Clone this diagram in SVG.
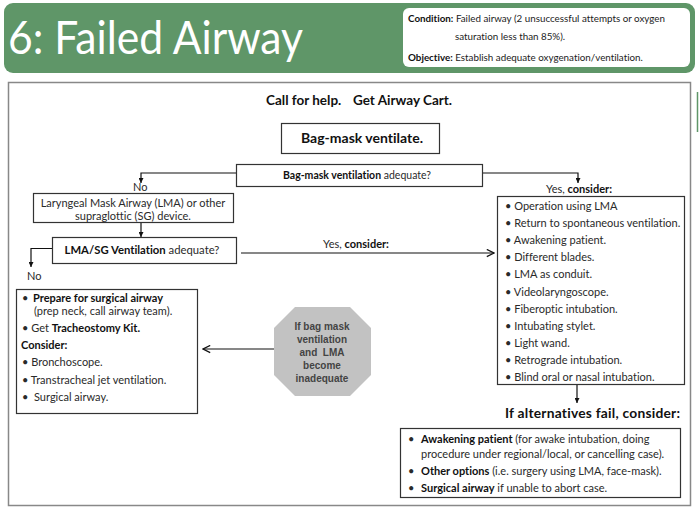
<svg xmlns="http://www.w3.org/2000/svg" width="699" height="514" viewBox="0 0 699 514">
<style>
text{font-family:Lato,"Liberation Sans",sans-serif;fill:#2a2a2a;font-variant-ligatures:none;font-feature-settings:"liga" 0;}
.b{font-weight:bold;fill:#111;}
.box{fill:#fff;stroke:#333;stroke-width:1.2;}
.t11{font-size:11px;}
.hd{font-size:9.8px;fill:#222;}
.oct{font-family:"Liberation Sans",Arial,sans-serif;font-weight:bold;font-size:10px;fill:#444;}
.ln{fill:none;stroke:#111;stroke-width:1.2;}
</style>
<defs>
<marker id="tri" viewBox="0 0 10 10" refX="10" refY="5" markerWidth="5" markerHeight="5" orient="auto" markerUnits="userSpaceOnUse">
<path d="M0,0 L10,5 L0,10 z" fill="#111"/>
</marker>
<marker id="open" viewBox="0 0 10 10" refX="9" refY="5" markerWidth="9" markerHeight="9" orient="auto" markerUnits="userSpaceOnUse">
<path d="M1,1 L9,5 L1,9" fill="none" stroke="#111" stroke-width="1.4"/>
</marker>
</defs>

<g id="header">
<rect x="4" y="3" width="691" height="70" rx="9" fill="#5f9668"/>
<text x="8" y="54" font-size="46" style="fill:#fff" textLength="295" lengthAdjust="spacingAndGlyphs">6: Failed Airway</text>
<rect x="403" y="8" width="287" height="59" rx="6" fill="#fff"/>
<text class="hd" x="408" y="22"><tspan class="b">Condition:</tspan> Failed airway (2 unsuccessful attempts or oxygen</text>
<text class="hd" x="455" y="40">saturation less than 85%).</text>
<text class="hd" x="408" y="61"><tspan class="b">Objective:</tspan> Establish adequate oxygenation/ventilation.</text>
</g>

<rect x="8.5" y="82.5" width="682" height="423" fill="none" stroke="#888" stroke-width="1.5"/>
<line x1="697.5" y1="92" x2="697.5" y2="132" stroke="#5f9668" stroke-width="1.5"/>

<g id="call">
<text class="b" x="266" y="105" font-size="13.5">Call for help.</text>
<text class="b" x="353" y="105" font-size="13.5">Get Airway Cart.</text>
</g>

<g id="bagmask">
<rect class="box" x="281.5" y="123.5" width="158" height="30"/>
<text class="b" x="362" y="143" font-size="14" text-anchor="middle">Bag-mask ventilate.</text>
</g>

<g id="bmadequate">
<rect class="box" x="236.5" y="164.5" width="246" height="22"/>
<text x="357" y="179" font-size="10.5" text-anchor="middle"><tspan class="b">Bag-mask ventilation</tspan> adequate?</text>
</g>

<g id="lma">
<rect class="box" x="33.5" y="193.5" width="200" height="29"/>
<text x="133" y="207" font-size="11" text-anchor="middle">Laryngeal Mask Airway (LMA) or other</text>
<text x="133" y="220" font-size="11" text-anchor="middle">supraglottic (SG) device.</text>
</g>

<g id="lmaadequate">
<rect class="box" x="52.5" y="237.5" width="184" height="26"/>
<text x="142" y="254" font-size="11.3" text-anchor="middle"><tspan class="b">LMA/SG Ventilation</tspan> adequate?</text>
</g>

<g id="surgical">
<rect class="box" x="16.5" y="289.5" width="181" height="124"/>
<text class="t11" x="22" y="302">•</text>
<text class="t11 b" x="33" y="302">Prepare for surgical airway</text>
<text class="t11" x="34" y="315">(prep neck, call airway team).</text>
<text class="t11" x="22" y="332">• Get <tspan class="b">Tracheostomy Kit.</tspan></text>
<text class="t11 b" x="21" y="349">Consider:</text>
<text class="t11" x="22" y="366">• Bronchoscope.</text>
<text class="t11" x="22" y="384">• Transtracheal jet ventilation.</text>
<text class="t11" x="22" y="401" xml:space="preserve">•  Surgical airway.</text>
</g>

<g id="stop">
<polygon points="295,307 350,307 371,328 371,375 350,396 295,396 274,375 274,328" fill="#c2c2c2"/>
<text class="oct" x="322" y="330" text-anchor="middle">If bag mask</text>
<text class="oct" x="322" y="343" text-anchor="middle">ventilation</text>
<text class="oct" x="322" y="356" text-anchor="middle" xml:space="preserve">and  LMA</text>
<text class="oct" x="322" y="369" text-anchor="middle">become</text>
<text class="oct" x="322" y="382" text-anchor="middle">inadequate</text>
</g>

<g id="yes">
<text x="579" y="193" font-size="11" text-anchor="middle">Yes, <tspan class="b">consider:</tspan></text>
<rect class="box" x="497.5" y="196.5" width="187" height="188"/>
<text class="t11" x="505" y="210">• Operation using LMA</text>
<text class="t11" x="505" y="227">• Return to spontaneous ventilation.</text>
<text class="t11" x="505" y="244">• Awakening patient.</text>
<text class="t11" x="505" y="261">• Different blades.</text>
<text class="t11" x="505" y="278">• LMA as conduit.</text>
<text class="t11" x="505" y="296">• Videolaryngoscope.</text>
<text class="t11" x="505" y="313">• Fiberoptic intubation.</text>
<text class="t11" x="505" y="330">• Intubating stylet.</text>
<text class="t11" x="505" y="347">• Light wand.</text>
<text class="t11" x="505" y="364">• Retrograde intubation.</text>
<text class="t11" x="505" y="381">• Blind oral or nasal intubation.</text>
</g>

<g id="fail">
<text class="b" x="505" y="418" font-size="13.8" textLength="175" lengthAdjust="spacing">If alternatives fail, consider:</text>
<rect class="box" x="400.5" y="428.5" width="280" height="69"/>
<text class="t11" x="408" y="443">•</text>
<text class="t11" x="421" y="443"><tspan class="b">Awakening patient</tspan> (for awake intubation, doing</text>
<text class="t11" x="421" y="458">procedure under regional/local, or cancelling case).</text>
<text class="t11" x="408" y="475">•</text>
<text class="t11" x="421" y="475"><tspan class="b">Other options</tspan> (i.e. surgery using LMA, face-mask).</text>
<text class="t11" x="408" y="492">•</text>
<text class="t11" x="421" y="492"><tspan class="b">Surgical airway</tspan> if unable to abort case.</text>
</g>

<g id="connectors">
<path class="ln" d="M236,173 H141 V183" marker-end="url(#tri)"/>
<path class="ln" d="M483,173 H578 V183" marker-end="url(#tri)"/>
<path class="ln" d="M141,223 V237" marker-end="url(#tri)"/>
<path class="ln" d="M52,248.5 H31 V267" stroke-width="2" marker-end="url(#tri)"/>
<path class="ln" d="M241,253 H494" marker-end="url(#open)"/>
<path class="ln" d="M274,349 H203" marker-end="url(#open)"/>
<path class="ln" d="M577,385 V403" marker-end="url(#tri)"/>
<text x="133" y="191" font-size="11">No</text>
<text x="27" y="280" font-size="11">No</text>
<text x="323" y="248" font-size="11">Yes, <tspan class="b">consider:</tspan></text>
</g>
</svg>
